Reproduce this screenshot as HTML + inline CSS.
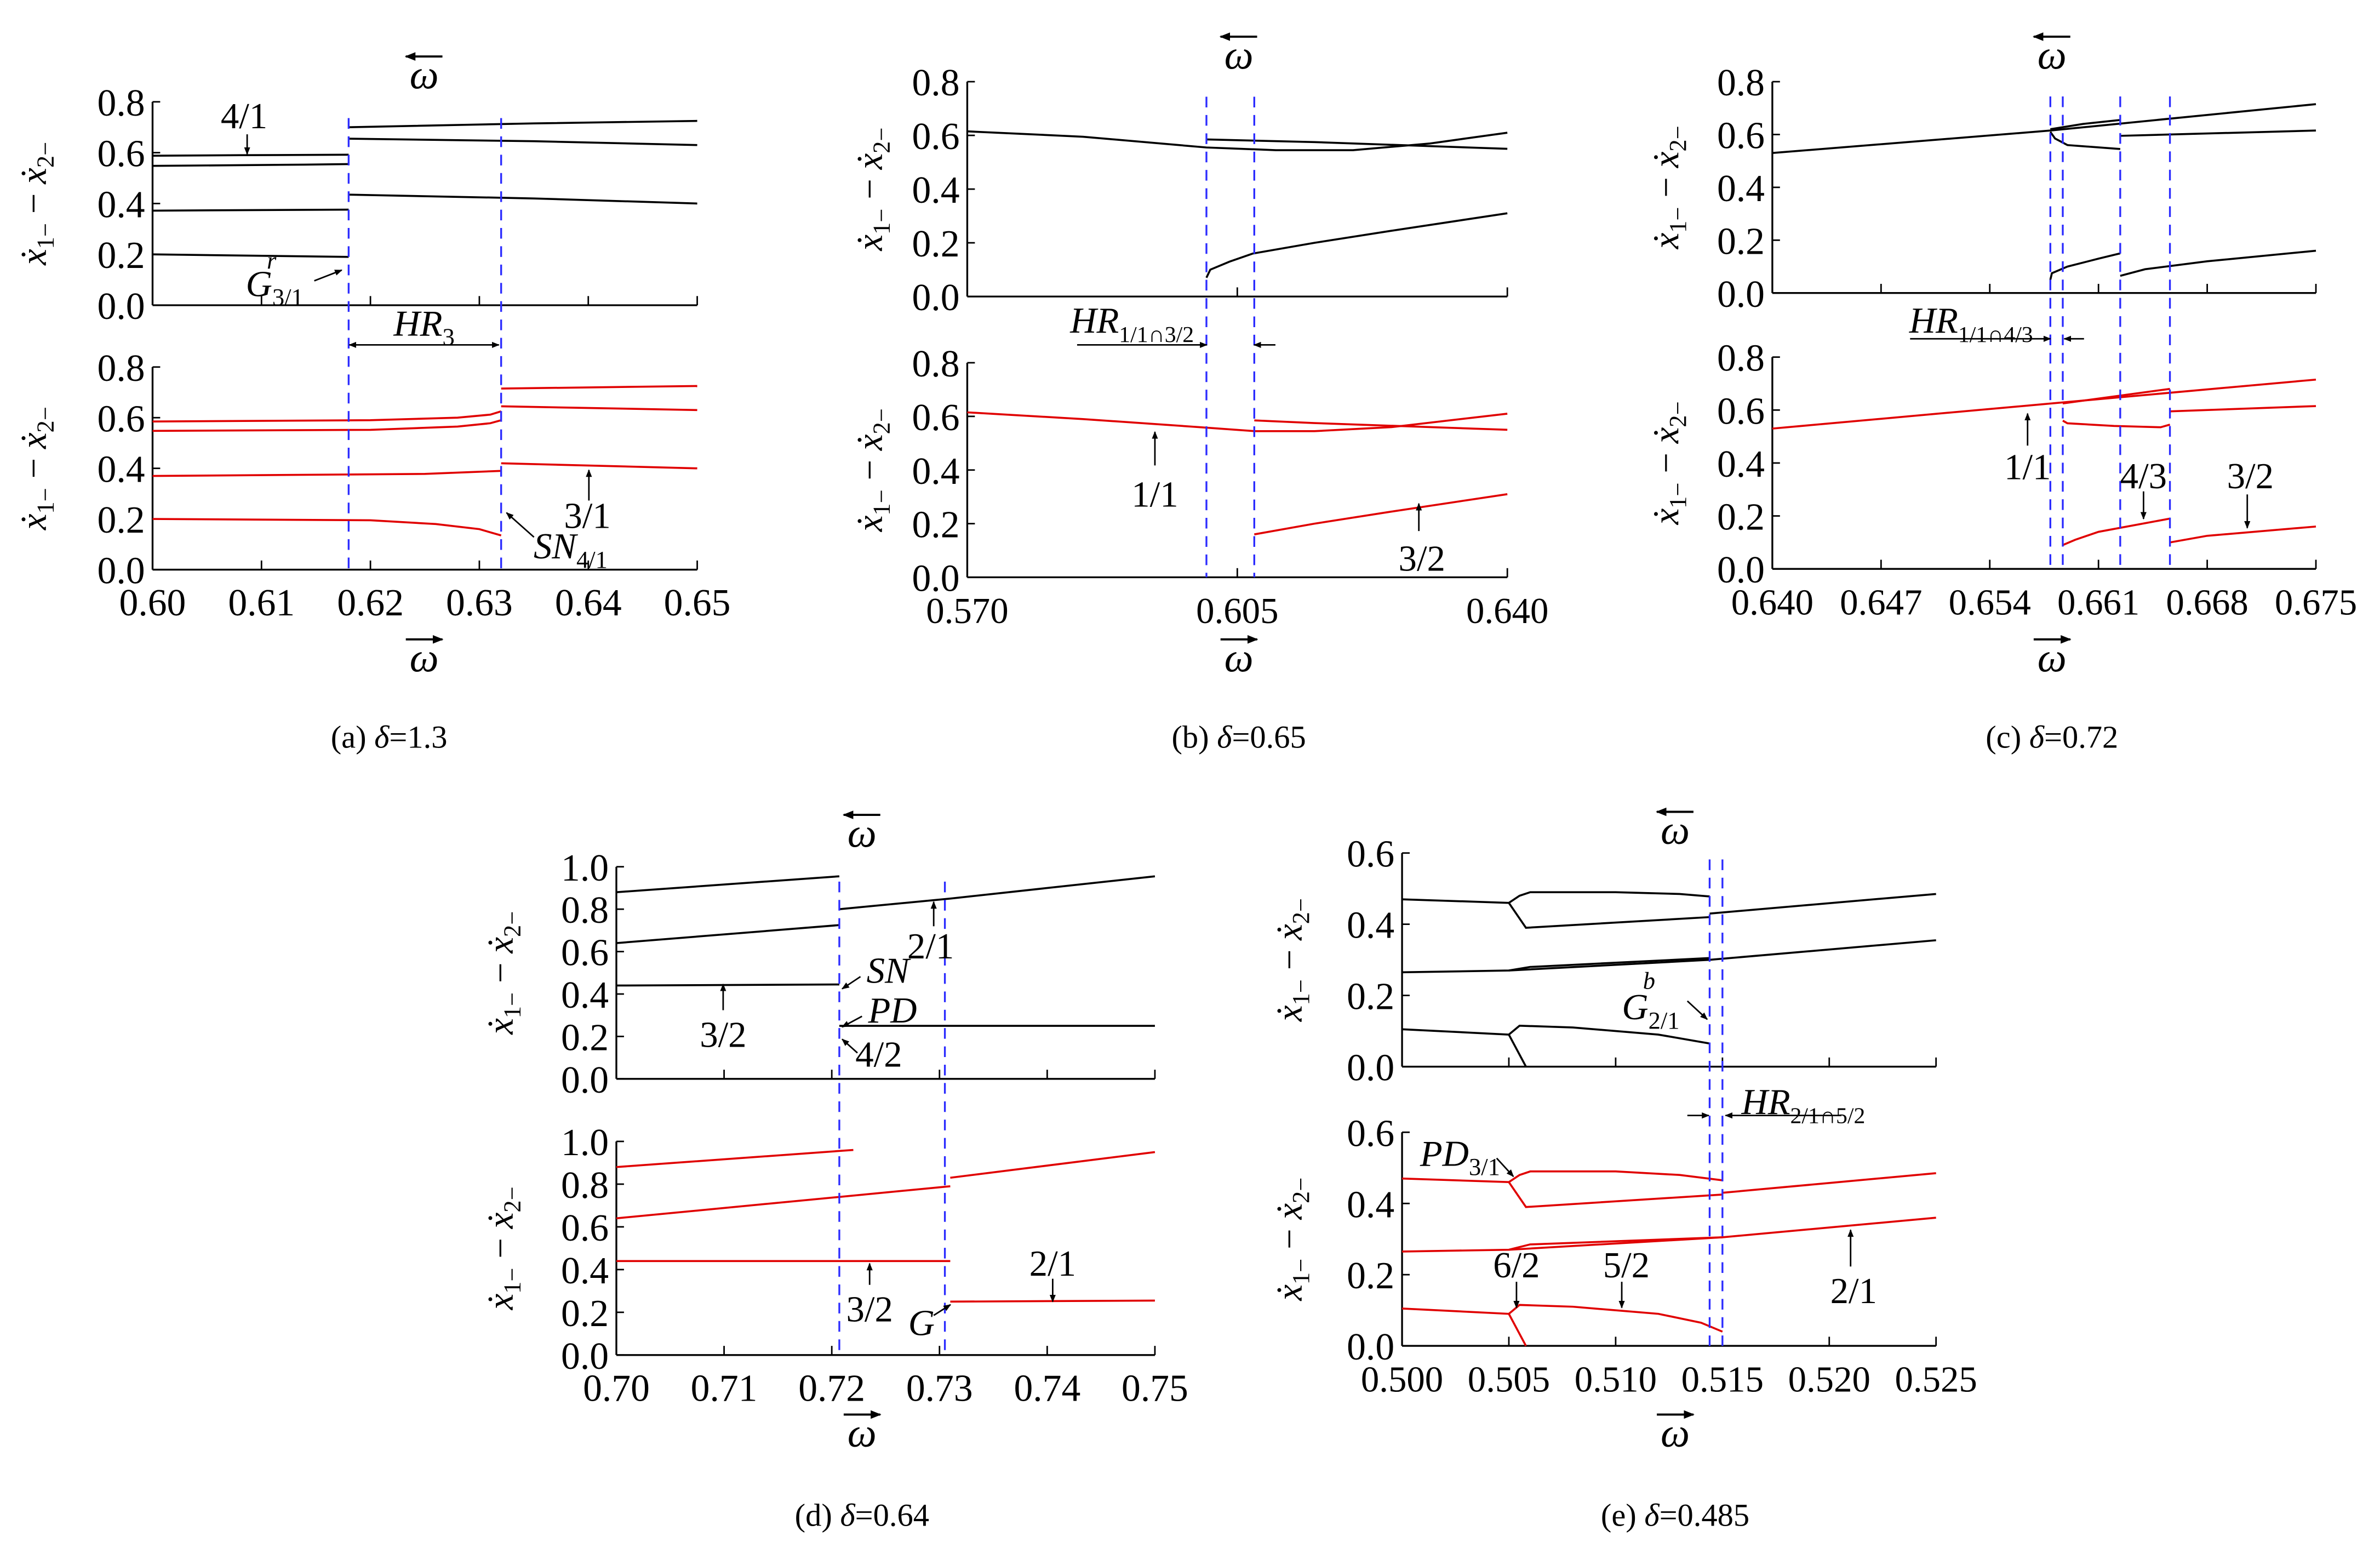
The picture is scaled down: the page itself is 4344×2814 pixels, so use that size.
<!DOCTYPE html>
<html><head><meta charset="utf-8"><title>Bifurcation diagrams</title>
<style>html,body{margin:0;padding:0;background:#fff}svg{display:block}text{font-family:"Liberation Serif",serif;fill:#000}</style>
</head><body>
<svg id="fig" xmlns="http://www.w3.org/2000/svg" width="4344" height="2814" viewBox="0 0 1560 1010.5">
<defs><marker id="ah" viewBox="0 0 10 10" refX="9" refY="5" markerWidth="5" markerHeight="5" orient="auto-start-reverse"><path d="M0,1 L10,5 L0,9 z" fill="#000"/></marker></defs>
</svg>
<script>
// ---------- data ----------
const aXTicks=[0.60,0.61,0.62,0.63,0.64,0.65];
const aXLabels=['0.60','0.61','0.62','0.63','0.64','0.65'];
const yTicks08=[0,0.2,0.4,0.6,0.8];
const yLabels08=['0.0','0.2','0.4','0.6','0.8'];
const aDash=[0.618,0.632];
const aTop=[
{x:[0.60,0.608,0.618],y:[0.588,0.59,0.592]},
{x:[0.60,0.614,0.618],y:[0.548,0.553,0.555]},
{x:[0.60,0.618],y:[0.372,0.376]},
{x:[0.60,0.618],y:[0.20,0.19]},
{x:[0.618,0.635,0.65],y:[0.70,0.715,0.725]},
{x:[0.618,0.635,0.65],y:[0.655,0.645,0.63]},
{x:[0.618,0.635,0.65],y:[0.435,0.42,0.40]}];
const aBot=[
{x:[0.60,0.62,0.628,0.631,0.632],y:[0.585,0.59,0.60,0.612,0.625]},
{x:[0.60,0.62,0.628,0.631,0.632],y:[0.548,0.552,0.565,0.578,0.59]},
{x:[0.60,0.625,0.632],y:[0.37,0.378,0.39]},
{x:[0.60,0.62,0.626,0.630,0.632],y:[0.20,0.195,0.18,0.16,0.135]},
{x:[0.632,0.65],y:[0.715,0.725]},
{x:[0.632,0.65],y:[0.645,0.63]},
{x:[0.632,0.65],y:[0.42,0.40]}];

const bXTicks=[0.570,0.605,0.640];
const bXLabels=['0.570','0.605','0.640'];
const bDash=[0.601,0.6072];
const bTop=[
{x:[0.570,0.585,0.601,0.610,0.620,0.630,0.640],y:[0.615,0.595,0.555,0.545,0.545,0.57,0.61]},
{x:[0.601,0.615,0.630,0.640],y:[0.585,0.575,0.56,0.55]},
{x:[0.601,0.6015,0.604,0.607,0.615,0.625,0.640],y:[0.07,0.10,0.13,0.16,0.20,0.245,0.31]}];
const bBot=[
{x:[0.570,0.585,0.600,0.6072],y:[0.615,0.59,0.56,0.545]},
{x:[0.6072,0.615,0.630,0.640],y:[0.585,0.575,0.56,0.55]},
{x:[0.6072,0.615,0.625,0.640],y:[0.545,0.545,0.56,0.61]},
{x:[0.6072,0.615,0.625,0.640],y:[0.16,0.20,0.245,0.31]}];

const cXTicks=[0.640,0.647,0.654,0.661,0.668,0.675];
const cXLabels=['0.640','0.647','0.654','0.661','0.668','0.675'];
const cDash=[0.6579,0.6587,0.6624,0.6656];
const cTop=[
{x:[0.640,0.6579,0.675],y:[0.53,0.615,0.715]},
{x:[0.6579,0.660,0.6624],y:[0.62,0.64,0.655]},
{x:[0.6579,0.6582,0.659,0.6624],y:[0.61,0.585,0.56,0.545]},
{x:[0.6579,0.658,0.659,0.661,0.6624],y:[0.05,0.075,0.10,0.13,0.15]},
{x:[0.6624,0.675],y:[0.595,0.615]},
{x:[0.6624,0.664,0.668,0.675],y:[0.065,0.09,0.12,0.16]}];
const cBot=[
{x:[0.640,0.675],y:[0.53,0.715]},
{x:[0.6587,0.6656],y:[0.625,0.68]},
{x:[0.6587,0.659,0.662,0.665,0.6656],y:[0.56,0.55,0.54,0.535,0.545]},
{x:[0.6587,0.6595,0.661,0.6656],y:[0.09,0.11,0.14,0.19]},
{x:[0.6656,0.675],y:[0.595,0.615]},
{x:[0.6656,0.668,0.675],y:[0.10,0.125,0.16]}];

const dXTicks=[0.70,0.71,0.72,0.73,0.74,0.75];
const dXLabels=['0.70','0.71','0.72','0.73','0.74','0.75'];
const yTicks10=[0,0.2,0.4,0.6,0.8,1.0];
const yLabels10=['0.0','0.2','0.4','0.6','0.8','1.0'];
const dDash=[0.7207,0.7305];
const dTop=[
{x:[0.70,0.7207],y:[0.88,0.955]},
{x:[0.70,0.7207],y:[0.64,0.725]},
{x:[0.70,0.7207],y:[0.44,0.445]},
{x:[0.7207,0.731,0.75],y:[0.80,0.85,0.955]},
{x:[0.7207,0.75],y:[0.25,0.25]}];
const dBot=[
{x:[0.70,0.722],y:[0.88,0.96]},
{x:[0.70,0.731],y:[0.64,0.79]},
{x:[0.731,0.75],y:[0.83,0.95]},
{x:[0.70,0.731],y:[0.44,0.44]},
{x:[0.731,0.75],y:[0.25,0.255]}];

const eXTicks=[0.500,0.505,0.510,0.515,0.520,0.525];
const eXLabels=['0.500','0.505','0.510','0.515','0.520','0.525'];
const yTicks06=[0,0.2,0.4,0.6];
const yLabels06=['0.0','0.2','0.4','0.6'];
const eDash=[0.5144,0.5150];
const eTop=[
{x:[0.500,0.505],y:[0.47,0.46]},
{x:[0.505,0.5055,0.506,0.510,0.513,0.5144],y:[0.46,0.48,0.49,0.49,0.485,0.478]},
{x:[0.505,0.5058,0.5144],y:[0.46,0.39,0.42]},
{x:[0.5144,0.525],y:[0.43,0.485]},
{x:[0.500,0.505,0.5144,0.525],y:[0.265,0.27,0.30,0.355]},
{x:[0.505,0.506,0.5144],y:[0.27,0.28,0.305]},
{x:[0.500,0.505],y:[0.105,0.09]},
{x:[0.505,0.5055,0.508,0.512,0.5144],y:[0.09,0.115,0.11,0.09,0.065]},
{x:[0.505,0.5058],y:[0.09,0.0]}];
const eBot=[
{x:[0.500,0.505],y:[0.47,0.46]},
{x:[0.505,0.5055,0.506,0.510,0.513,0.515],y:[0.46,0.48,0.49,0.49,0.48,0.465]},
{x:[0.505,0.5058,0.515],y:[0.46,0.39,0.425]},
{x:[0.515,0.525],y:[0.43,0.485]},
{x:[0.500,0.505,0.515,0.525],y:[0.265,0.27,0.305,0.36]},
{x:[0.505,0.506,0.515],y:[0.27,0.285,0.305]},
{x:[0.500,0.505],y:[0.105,0.09]},
{x:[0.505,0.5055,0.508,0.512,0.514,0.515],y:[0.09,0.115,0.11,0.09,0.065,0.04]},
{x:[0.505,0.5058],y:[0.09,0.0]}];

// ---------- drawing ----------
const NS='http://www.w3.org/2000/svg';
const svg=document.getElementById('fig');
function mk(tag,attrs,name,parent){
  const e=document.createElementNS(NS,tag);
  for(const k in attrs)e.setAttribute(k,attrs[k]);
  
  
  (parent||svg).appendChild(e);return e;
}
function txt(x,y,s,size,name,opts){
  opts=opts||{};
  const t=mk('text',{x:x,y:y,'font-size':size,'text-anchor':opts.anchor||'middle','font-style':opts.italic?'italic':'normal'},name);
  if(opts.html)t.innerHTML=s;else t.textContent=s;
  return t;
}
function arrow(x1,y1,x2,y2,name,both){
  const a={x1:x1,y1:y1,x2:x2,y2:y2,stroke:'#000','stroke-width':1,'marker-end':'url(#ah)'};
  if(both)a['marker-start']='url(#ah)';
  return mk('line',a,name);
}
function omega(x,y,left,name){
  const g=mk('g',{},name);
  const t=mk('text',{x:x,y:y,'font-size':27,'text-anchor':'middle','font-style':'italic'},name+'-symbol',g);
  t.textContent='ω';
  const ay=y-21;
  if(left)mk('line',{x1:x+12,y1:ay,x2:x-12,y2:ay,stroke:'#000','stroke-width':1.4,'marker-end':'url(#ah)'},name+'-arrow',g);
  else mk('line',{x1:x-12,y1:ay,x2:x+12,y2:ay,stroke:'#000','stroke-width':1.4,'marker-end':'url(#ah)'},name+'-arrow',g);
}
function ylabel(x,yc,name){
  const t=mk('text',{x:0,y:0,'font-size':24,'text-anchor':'middle','font-style':'italic',transform:`translate(${x},${yc}) rotate(-90)`},name);
  t.innerHTML='ẋ<tspan font-size="16" dy="5" font-style="normal">1−</tspan><tspan dy="-5" font-style="normal"> − </tspan>ẋ<tspan font-size="16" dy="5" font-style="normal">2−</tspan>';
}
function panel(id,cfg){
  const sx=v=>cfg.x0+(v-cfg.d0)/(cfg.d1-cfg.d0)*(cfg.x1-cfg.x0);
  const fs=cfg.fs||25;
  [['top',cfg.top,cfg.topS,'#000'],['bottom',cfg.bot,cfg.botS,'#e00000']].forEach(([which,ax,series,col])=>{
    const sy=v=>ax[0]+(v/cfg.ymax)*(ax[1]-ax[0]);
    const pre=`panel-${id}-${which}`;
    mk('line',{x1:cfg.x0,y1:ax[0],x2:cfg.x1,y2:ax[0],stroke:'#000','stroke-width':1.2},pre+'-x-axis');
    mk('line',{x1:cfg.x0,y1:ax[0],x2:cfg.x0,y2:sy(cfg.ymax),stroke:'#000','stroke-width':1.2},pre+'-y-axis');
    cfg.yt.forEach((v,i)=>{
      mk('line',{x1:cfg.x0,y1:sy(v),x2:cfg.x0+5,y2:sy(v),stroke:'#000','stroke-width':1},pre+'-y-tick');
      txt(cfg.x0-5,sy(v)+9,cfg.yl[i],25,pre+'-y-tick-label',{anchor:'end'});
    });
    cfg.xt.forEach((v,i)=>{
      if(i>0)mk('line',{x1:sx(v),y1:ax[0],x2:sx(v),y2:ax[0]-6,stroke:'#000','stroke-width':1},pre+'-x-tick');
      if(which==='bottom')txt(sx(v),ax[0]+30,cfg.xl[i],fs,pre+'-x-tick-label');
    });
    ylabel(cfg.ylx,(ax[0]+sy(cfg.ymax))/2,pre+'-y-axis-title');
    series.forEach((s,k)=>{
      const d=s.x.map((xv,j)=>(j?'L':'M')+sx(xv).toFixed(2)+','+sy(s.y[j]).toFixed(2)).join(' ');
      mk('path',{d:d,fill:'none',stroke:col,'stroke-width':1.3},pre+'-branch-'+(k+1));
    });
  });
  const ytop=cfg.top[0]+(cfg.dashTop)*(cfg.top[1]-cfg.top[0]);
  cfg.dash.forEach(v=>{
    mk('line',{x1:sx(v),y1:ytop,x2:sx(v),y2:cfg.bot[0],stroke:'#2b2bff','stroke-width':1.2,'stroke-dasharray':'7,5'},`panel-${id}-boundary-line`);
  });
}
panel('a',{x0:100,x1:457,d0:0.60,d1:0.65,top:[200,66.7],bot:[373.3,240.5],ymax:0.8,yt:yTicks08,yl:yLabels08,xt:aXTicks,xl:aXLabels,topS:aTop,botS:aBot,dash:aDash,dashTop:0.92,ylx:30});
panel('b',{x0:634,x1:988,d0:0.570,d1:0.640,top:[194.3,53.5],bot:[378.3,237.7],ymax:0.8,yt:yTicks08,yl:yLabels08,xt:bXTicks,xl:bXLabels,topS:bTop,botS:bBot,dash:bDash,dashTop:0.93,ylx:578,fs:24});
panel('c',{x0:1161.7,x1:1518,d0:0.640,d1:0.675,top:[192,53.5],bot:[372.8,234],ymax:0.8,yt:yTicks08,yl:yLabels08,xt:cXTicks,xl:cXLabels,topS:cTop,botS:cBot,dash:cDash,dashTop:0.93,ylx:1100,fs:24});
panel('d',{x0:404,x1:757,d0:0.70,d1:0.75,top:[707,568],bot:[888,748],ymax:1.0,yt:yTicks10,yl:yLabels10,xt:dXTicks,xl:dXLabels,topS:dTop,botS:dBot,dash:dDash,dashTop:0.93,ylx:336});
panel('e',{x0:919,x1:1269,d0:0.500,d1:0.525,top:[699,559],bot:[882,742],ymax:0.6,yt:yTicks06,yl:yLabels06,xt:eXTicks,xl:eXLabels,topS:eTop,botS:eBot,dash:eDash,dashTop:0.97,ylx:853,fs:24});

// omega symbols
omega(278,58,true,'omega-backward-a');omega(278,440,false,'omega-forward-a');
omega(812,45,true,'omega-backward-b');omega(812,440,false,'omega-forward-b');
omega(1345,45,true,'omega-backward-c');omega(1345,440,false,'omega-forward-c');
omega(565,555,true,'omega-backward-d');omega(565,948,false,'omega-forward-d');
omega(1098,553,true,'omega-backward-e');omega(1098,948,false,'omega-forward-e');

// captions
txt(255,490,'(a) <tspan font-style="italic">δ</tspan>=1.3',21,'caption-a',{html:true});
txt(812,490,'(b) <tspan font-style="italic">δ</tspan>=0.65',21,'caption-b',{html:true});
txt(1345,490,'(c) <tspan font-style="italic">δ</tspan>=0.72',21,'caption-c',{html:true});
txt(565,1000,'(d) <tspan font-style="italic">δ</tspan>=0.64',21,'caption-d',{html:true});
txt(1098,1000,'(e) <tspan font-style="italic">δ</tspan>=0.485',21,'caption-e',{html:true});

// annotations (a)
txt(160,84,'4/1',24,'label-4-1');arrow(162,88,162,101,'arrow-4-1');
txt(180,194,'<tspan font-style="italic">G</tspan><tspan font-size="16" dy="6">3/1</tspan><tspan font-size="16" dx="-24" dy="-24" font-style="italic">r</tspan>',24,'label-g-3-1',{html:true});
arrow(206,184,224,177,'arrow-g-3-1');
txt(278,220,'<tspan font-style="italic">HR</tspan><tspan font-size="16" dy="6">3</tspan>',24,'label-hr3',{html:true});
arrow(229,226,327,226,'arrow-hr3',true);
txt(385,346,'3/1',24,'label-3-1');arrow(386,328,386,308,'arrow-3-1');
txt(374,366,'<tspan font-style="italic">SN</tspan><tspan font-size="16" dy="6">4/1</tspan>',24,'label-sn-4-1',{html:true});
arrow(350,352,332,336,'arrow-sn-4-1');
// (b)
txt(742,218,'<tspan font-style="italic">HR</tspan><tspan font-size="15" dy="6">1/1∩3/2</tspan>',24,'label-hr-1-1-3-2',{html:true});
arrow(706,226,791,226,'arrow-hr-b-left');arrow(836,226,822,226,'arrow-hr-b-right');
txt(757,332,'1/1',24,'label-1-1-b');arrow(757,305,757,283,'arrow-1-1-b');
txt(932,374,'3/2',24,'label-3-2-b');arrow(930,348,930,330,'arrow-3-2-b');
// (c)
txt(1292,218,'<tspan font-style="italic">HR</tspan><tspan font-size="15" dy="6">1/1∩4/3</tspan>',24,'label-hr-1-1-4-3',{html:true});
arrow(1252,222,1344,222,'arrow-hr-c-left');arrow(1366,222,1353,222,'arrow-hr-c-right');
txt(1329,314,'1/1',24,'label-1-1-c');arrow(1329,292,1329,271,'arrow-1-1-c');
txt(1405,320,'4/3',24,'label-4-3');arrow(1405,322,1405,340,'arrow-4-3');
txt(1475,320,'3/2',24,'label-3-2-c');arrow(1473,324,1473,346,'arrow-3-2-c');
// (d)
txt(610,628,'2/1',24,'label-2-1-d-top');arrow(612,607,612,591,'arrow-2-1-d-top');
txt(582,644,'<tspan font-style="italic">SN</tspan>',24,'label-sn-d',{html:true});arrow(564,640,552,648,'arrow-sn-d');
txt(585,670,'<tspan font-style="italic">PD</tspan>',24,'label-pd-d',{html:true});arrow(565,666,552,673,'arrow-pd-d');
txt(576,699,'4/2',24,'label-4-2');arrow(562,690,552,681,'arrow-4-2');
txt(474,686,'3/2',24,'label-3-2-d-top');arrow(474,662,474,645,'arrow-3-2-d-top');
txt(570,866,'3/2',24,'label-3-2-d-bottom');arrow(570,842,570,828,'arrow-3-2-d-bottom');
txt(604,875,'<tspan font-style="italic">G</tspan>',24,'label-g-d',{html:true});arrow(612,862,623,855,'arrow-g-d');
txt(690,836,'2/1',24,'label-2-1-d-bottom');arrow(690,838,690,853,'arrow-2-1-d-bottom');
// (e)
txt(1082,668,'<tspan font-style="italic">G</tspan><tspan font-size="16" dy="6">2/1</tspan><tspan font-size="16" dx="-24" dy="-26" font-style="italic">b</tspan>',24,'label-g-2-1',{html:true});
arrow(1106,656,1119,668,'arrow-g-2-1');
txt(1182,730,'<tspan font-style="italic">HR</tspan><tspan font-size="15" dy="6">2/1∩5/2</tspan>',24,'label-hr-2-1-5-2',{html:true});
arrow(1106,731,1120,731,'arrow-hr-e-left');arrow(1207,731,1131,731,'arrow-hr-e-right');
txt(957,764,'<tspan font-style="italic">PD</tspan><tspan font-size="16" dy="6">3/1</tspan>',24,'label-pd-3-1',{html:true});
arrow(981,759,992,771,'arrow-pd-3-1');
txt(994,837,'6/2',24,'label-6-2');arrow(994,840,994,857,'arrow-6-2');
txt(1066,837,'5/2',24,'label-5-2');arrow(1063,840,1063,857,'arrow-5-2');
txt(1215,854,'2/1',24,'label-2-1-e');arrow(1213,830,1213,806,'arrow-2-1-e');
</script>
</body></html>
